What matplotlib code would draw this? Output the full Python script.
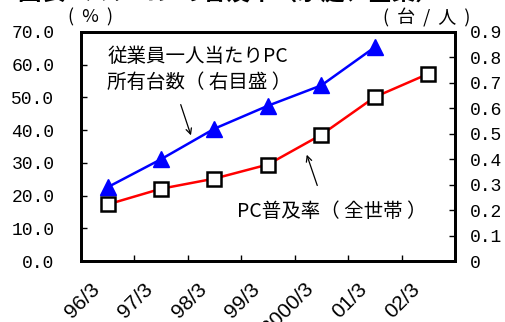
import matplotlib
matplotlib.use('Agg')
import matplotlib.pyplot as plt
from matplotlib.transforms import ScaledTranslation

plt.rcParams['font.family'] = ['Noto Sans CJK JP', 'DejaVu Sans']

# data
periods = ["96/3", "97/3", "98/3", "99/3", "2000/3", "01/3", "02/3"]
pc_rate = [17.3, 22.1, 25.2, 29.5, 38.6, 50.1, 57.2]          # % (left axis)
pc_per_employee = [0.29, 0.40, 0.52, 0.61, 0.69, 0.84]         # units/person (right axis)

x = list(range(len(periods)))

fig = plt.figure(figsize=(5.05, 3.22), dpi=100)
ax = fig.add_axes([0.160, 0.189, 0.741, 0.712])
ax2 = ax.twinx()

ax.plot(x, pc_rate, color="#ff0000", lw=1.8, marker="s", ms=10,
        mfc="white", mec="black", mew=1.8, zorder=3)
ax2.plot(x[:len(pc_per_employee)], pc_per_employee, color="#0000ff", lw=1.8,
         marker="^", ms=11, mfc="#0000ff", mec="#0000ff", zorder=3)

ax.set_xlim(-0.5, len(periods) - 0.5)
ax.set_ylim(0, 70)
ax2.set_ylim(0, 0.9)

mono = ['Liberation Mono', 'DejaVu Sans Mono']
ax.set_yticks(range(0, 71, 10))
ax.set_yticklabels(["%.1f" % v for v in range(0, 71, 10)], fontsize=13, family=mono)
ax2.set_yticks([i / 10 for i in range(10)])
ax2.set_yticklabels(["0"] + ["0.%d" % i for i in range(1, 10)], fontsize=13, family=mono)

# category boundaries as ticks, labels drawn at centres
ax.set_xticks([i + 0.5 for i in x[:-1]])
ax.set_xticklabels([])
ax.tick_params(axis="x", which="major", direction="in", length=4, width=1)
ax.tick_params(axis="y", direction="in", length=4, width=1, pad=19)
ax2.tick_params(axis="y", direction="in", length=4, width=1, pad=11)

lab_tr = ax.get_xaxis_transform() + ScaledTranslation(-11 / 100, -25 / 100, fig.dpi_scale_trans)
for xi, lab in zip(x, periods):
    ax.text(xi, 0, lab, transform=lab_tr, rotation=45, ha="right", va="center",
            rotation_mode="anchor", fontsize=15, clip_on=False,
            family=['Liberation Sans', 'DejaVu Sans'])

for a in (ax, ax2):
    for s in a.spines.values():
        s.set_linewidth(2)

# unit labels
fig.text(0.135, 0.945, "(  %  )", fontsize=13, ha="left", va="center")
fig.text(0.758, 0.945, "(  台  /  人  )", fontsize=13, ha="left", va="center")

# title (cut off at the top in the source)
fig.text(0.035, 1.0 + 1 / 322, "図表2 パソコンの普及率（家庭、企業）",
         fontsize=17, fontweight="bold", ha="left", va="baseline")

# annotations
ax.annotate("", xy=(1.577, 37.6), xytext=(1.353, 48.6),
            arrowprops=dict(arrowstyle="->", color="black", lw=0.9))
fig.text(0.212, 0.784, "従業員一人当たりPC\n所有台数（ 右目盛 ）", fontsize=14,
         ha="left", va="center", linespacing=1.3)

ax.annotate("", xy=(3.71, 33.3), xytext=(3.94, 22.3),
            arrowprops=dict(arrowstyle="->", color="black", lw=0.9))
ax.text(2.42, 15.2, "PC普及率（ 全世帯 ）", fontsize=14, ha="left", va="center")

fig.savefig("out.png", dpi=100)
